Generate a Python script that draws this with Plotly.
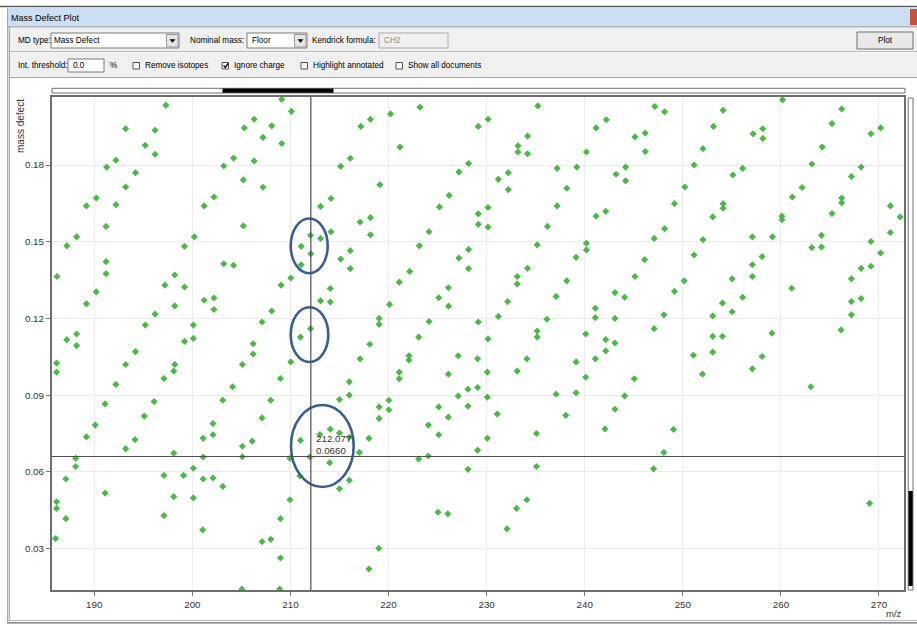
import plotly.graph_objects as go

# ---------------- data: (m/z, mass defect) ----------------
pts_185_208 = [
    (186.2, 0.1364), (187.2, 0.1484), (188.2, 0.1519), (189.2, 0.164), (189.2, 0.1257),
    (190.2, 0.1671), (190.2, 0.1304), (187.2, 0.1117), (188.2, 0.1139), (188.2, 0.1094),
    (191.26, 0.1792), (191.2, 0.156), (191.2, 0.1422), (191.2, 0.1375), (192.2, 0.1819),
    (192.2, 0.1645), (193.2, 0.1942), (193.2, 0.1714), (194.2, 0.177), (194.2, 0.107),
    (195.2, 0.1877), (195.2, 0.1174), (196.2, 0.1936), (196.2, 0.1842), (196.2, 0.1217),
    (197.3, 0.2034), (197.2, 0.133), (198.2, 0.137), (198.2, 0.1249), (199.2, 0.1482),
    (199.2, 0.1323), (199.2, 0.111), (200.2, 0.1519), (200.1, 0.1174), (200.1, 0.1122),
    (201.2, 0.164), (201.2, 0.1271), (202.2, 0.1675), (202.2, 0.128), (202.2, 0.1235),
    (203.2, 0.1414), (203.2, 0.1796), (204.2, 0.1408), (204.2, 0.1827), (205.2, 0.1742),
    (205.2, 0.1562), (205.3, 0.1945), (206.3, 0.1979), (206.3, 0.1816), (206.2, 0.1101),
    (206.2, 0.1061), (207.2, 0.1908), (207.2, 0.1713), (207.1, 0.1186),
    (186.16, 0.1025), (186.16, 0.099), (193.2, 0.102), (192.2, 0.0942), (191.1, 0.0866),
    (190.1, 0.0783), (189.2, 0.0737), (188.1, 0.0653), (188.1, 0.0621), (187.1, 0.0572),
    (186.16, 0.0483), (186.16, 0.0457), (187.1, 0.0417), (186.05, 0.0339), (191.1, 0.0517),
    (193.2, 0.069), (194.15, 0.0726), (195.1, 0.0818), (196.1, 0.0875), (197.1, 0.0965),
    (198.1, 0.0994), (198.2, 0.102), (198.1, 0.0673), (197.1, 0.0586), (197.1, 0.0429),
    (198.1, 0.0503), (199.1, 0.0586), (200.1, 0.0614), (200.1, 0.0498), (201.1, 0.0731),
    (201.1, 0.0658), (201.1, 0.0572), (201.05, 0.0373), (202.1, 0.0789), (202.1, 0.0745),
    (202.1, 0.0576), (203.1, 0.088), (203.1, 0.0543), (204.1, 0.0933), (205.1, 0.102),
    (205.1, 0.07), (205.1, 0.0659), (206.1, 0.072), (207.1, 0.0811), (207.1, 0.0327),
    (205.05, 0.0142),
]
pts_208_231 = [
    (209.11, 0.2057), (210.1, 0.201), (208.09, 0.1953), (209.11, 0.1884), (212.05, 0.1525),
    (213.07, 0.1513), (211.09, 0.1482), (212.08, 0.1453), (211.09, 0.141), (210.03, 0.1358),
    (209.04, 0.133), (208.09, 0.1229), (212.05, 0.116), (211.02, 0.1127), (215.12, 0.1795),
    (216.1, 0.1826), (217.17, 0.1951), (218.16, 0.1979), (220.2, 0.2), (221.16, 0.187),
    (223.2, 0.2026), (213.07, 0.1638), (214.13, 0.1669), (219.11, 0.1723), (214.13, 0.1539),
    (217.1, 0.1577), (218.16, 0.1594), (218.16, 0.1527), (215.12, 0.1432), (216.1, 0.1465),
    (216.1, 0.1395), (214.06, 0.1317), (213.07, 0.1269), (214.06, 0.1264), (219.04, 0.12),
    (219.04, 0.1177), (220.1, 0.1255), (218.09, 0.1099), (221.09, 0.1342), (222.15, 0.1384),
    (223.14, 0.1484), (224.13, 0.1539), (225.19, 0.1636), (226.18, 0.1681), (227.17, 0.1773),
    (228.16, 0.1806), (229.15, 0.1951), (230.14, 0.1979), (229.15, 0.1609), (229.15, 0.1568),
    (230.14, 0.1634), (230.14, 0.1557), (227.17, 0.1436), (228.16, 0.147), (228.16, 0.1395),
    (226.1, 0.132), (225.12, 0.1281), (226.12, 0.1248), (224.13, 0.1188), (229.15, 0.1186),
    (230.14, 0.112), (223.07, 0.1127),
    (210.03, 0.103), (208.98, 0.0965), (207.99, 0.088), (217.1, 0.1042), (216.0, 0.0952),
    (216.0, 0.09), (215.0, 0.0883), (214.06, 0.0767), (213.0, 0.0746), (211.02, 0.0723),
    (215.0, 0.0752), (216.0, 0.0735), (211.98, 0.0658), (209.95, 0.0653), (214.0, 0.0636),
    (217.03, 0.0676), (218.0, 0.0731), (219.04, 0.0809), (219.04, 0.0854), (220.03, 0.088),
    (220.03, 0.0843), (221.09, 0.099), (221.09, 0.0964), (222.08, 0.1054), (222.08, 0.1037),
    (210.96, 0.0584), (216.0, 0.0567), (215.0, 0.0534), (209.95, 0.0491), (208.98, 0.0417),
    (207.99, 0.0336), (208.98, 0.0263), (208.9, 0.0142), (218.0, 0.022), (219.0, 0.0301),
    (223.07, 0.065), (224.06, 0.0662), (224.06, 0.0783), (225.12, 0.0854), (225.12, 0.0745),
    (226.1, 0.0814), (226.1, 0.0982), (227.1, 0.1054), (227.1, 0.0897), (228.09, 0.0923),
    (228.09, 0.0857), (228.09, 0.061), (229.08, 0.093), (229.08, 0.1042), (230.07, 0.099),
    (230.07, 0.0892), (230.07, 0.0731), (229.08, 0.0685), (225.05, 0.0442), (226.04, 0.0436),
]
pts_231_252 = [
    (235.22, 0.2031), (234.17, 0.1913), (233.19, 0.1875), (233.19, 0.1851), (234.17, 0.1844),
    (231.19, 0.1744), (232.2, 0.177), (232.2, 0.1704), (237.19, 0.1787), (239.19, 0.1792),
    (238.17, 0.1709), (237.19, 0.164), (236.2, 0.156), (235.15, 0.1488), (234.17, 0.1396),
    (233.12, 0.1364), (233.12, 0.1335), (232.14, 0.1266), (231.19, 0.1208), (235.15, 0.1151),
    (235.15, 0.1127), (236.14, 0.1197), (237.08, 0.1286), (238.17, 0.1347), (239.12, 0.1439),
    (240.17, 0.1494), (240.17, 0.1468), (240.17, 0.1851), (241.15, 0.1945), (242.2, 0.1977),
    (243.19, 0.1764), (244.17, 0.1792), (244.17, 0.1738), (241.15, 0.16), (242.14, 0.1619),
    (245.12, 0.191), (246.17, 0.1925), (246.17, 0.1853), (247.15, 0.2029), (248.14, 0.2008),
    (250.2, 0.1714), (251.15, 0.18), (249.15, 0.1649), (248.14, 0.1551), (247.08, 0.1513),
    (246.1, 0.143), (245.12, 0.1364), (244.07, 0.1283), (243.08, 0.1301), (241.08, 0.124),
    (241.08, 0.1203), (243.08, 0.12), (240.1, 0.1139), (242.14, 0.1117), (243.08, 0.1104),
    (242.14, 0.1073), (247.08, 0.116), (248.07, 0.1214), (249.15, 0.1306), (250.14, 0.1347),
    (251.15, 0.1448),
    (234.1, 0.1042), (233.12, 0.0994), (231.08, 0.0826), (235.08, 0.075), (235.08, 0.0621),
    (234.1, 0.0491), (233.05, 0.0457), (232.07, 0.0377), (237.08, 0.0904), (238.07, 0.0821),
    (239.12, 0.0909), (239.12, 0.103), (240.1, 0.097), (241.08, 0.1042), (244.07, 0.0897),
    (243.08, 0.0845), (242.07, 0.0768), (245.05, 0.0964), (249.05, 0.0766), (248.07, 0.0676),
    (247.02, 0.0612), (251.08, 0.1056),
]
pts_252_273 = [
    (254.11, 0.2014), (253.12, 0.1951), (252.05, 0.1864), (257.16, 0.1922), (258.15, 0.1942),
    (258.15, 0.1904), (260.17, 0.2055), (255.1, 0.1761), (256.1, 0.1787), (254.11, 0.1649),
    (254.11, 0.1631), (253.05, 0.1597), (252.05, 0.1508), (257.09, 0.1519), (259.14, 0.1519),
    (258.08, 0.1442), (257.09, 0.141), (257.09, 0.1364), (255.03, 0.1355), (256.1, 0.1283),
    (254.04, 0.126), (255.03, 0.1226), (253.05, 0.121), (253.05, 0.113), (254.04, 0.113),
    (253.05, 0.1068), (259.08, 0.1142), (260.1, 0.16), (260.1, 0.1586), (261.16, 0.1675),
    (262.16, 0.1712), (263.15, 0.1804), (264.21, 0.187), (265.21, 0.1962), (266.2, 0.2019),
    (267.19, 0.1755), (268.18, 0.1792), (269.18, 0.1922), (270.17, 0.1945), (266.2, 0.1671),
    (266.2, 0.1652), (265.21, 0.161), (264.14, 0.1525), (263.15, 0.1477), (264.14, 0.1479),
    (261.1, 0.1318), (267.19, 0.1355), (267.19, 0.1266), (268.18, 0.1278), (267.19, 0.1214),
    (266.13, 0.1155), (268.18, 0.1396), (269.18, 0.1404), (269.18, 0.1501), (270.17, 0.1456),
    (271.16, 0.164), (271.16, 0.1536), (272.16, 0.1597),
    (252.0, 0.0982), (257.09, 0.1003), (258.08, 0.1051), (263.05, 0.0933), (269.04, 0.0477),
]

x_ticks = [190, 200, 210, 220, 230, 240, 250, 260, 270]
y_ticks = [0.03, 0.06, 0.09, 0.12, 0.15, 0.18]
x_range = [185.69, 272.55]
y_range = [0.0138, 0.2066]
cursor_mz = 212.077
cursor_md = 0.0660

regions = [pts_185_208, pts_208_231, pts_231_252, pts_252_273]
mz = [p[0] for r in regions for p in r]
md = [p[1] for r in regions for p in r]

# ---------------- geometry helpers (pixel -> paper) ----------------
W, H = 917, 625
ML, MR, MT, MB = 52, 13, 97, 35
PW, PH = W - ML - MR, H - MT - MB
UI_FONT = "Liberation Sans, Arial, sans-serif"
UI_SIZE = 8.2


def px(x):
    return (x - ML) / PW


def py(y):
    return (H - MB - y) / PH


shapes, anns = [], []


def rect(x0, y0, x1, y1, fill=None, line=None, lw=1):
    shapes.append(dict(type="rect", xref="paper", yref="paper",
                       x0=px(x0), x1=px(x1), y0=py(y1), y1=py(y0),
                       fillcolor=fill or "rgba(0,0,0,0)",
                       line=dict(color=line or "rgba(0,0,0,0)", width=lw if line else 0),
                       layer="above"))


def seg(x0, y0, x1, y1, color, lw=1):
    shapes.append(dict(type="line", xref="paper", yref="paper",
                       x0=px(x0), x1=px(x1), y0=py(y0), y1=py(y1),
                       line=dict(color=color, width=lw), layer="above"))


def path(pts, fill=None, color="#000", lw=1, close=False):
    d = "M " + " L ".join(f"{px(a):.5f},{py(b):.5f}" for a, b in pts) + (" Z" if close else "")
    shapes.append(dict(type="path", xref="paper", yref="paper", path=d,
                       fillcolor=fill or "rgba(0,0,0,0)", line=dict(color=color, width=lw),
                       layer="above"))


def ellipse(x0, y0, x1, y1, color="#3B5E8C", lw=2.6):
    shapes.append(dict(type="circle", xref="paper", yref="paper",
                       x0=px(x0), x1=px(x1), y0=py(y1), y1=py(y0),
                       line=dict(color=color, width=lw), layer="above"))


def text(x, y, s, size=UI_SIZE, color="#000", anchor="left", angle=0, yanchor="middle"):
    anns.append(dict(xref="paper", yref="paper", x=px(x), y=py(y), text=s, showarrow=False,
                     xanchor=anchor, yanchor=yanchor, textangle=angle, borderpad=0,
                     font=dict(family=UI_FONT, size=size, color=color)))


# ---------------- window chrome ----------------
seg(0, 6.5, W, 6.5, "#5A5A5A", 1.5)
rect(8, 7.5, W, 26.5, fill="#CCDEF1")
rect(910, 9, W, 25, fill="#C9503F")
text(10, 17.5, "Mass Defect Plot", size=9)
rect(9, 27, W, 77.5, fill="#F0F0F0")
seg(8, 26.8, W, 26.8, "#9A9A9A", 1)
seg(9, 51.8, W, 51.8, "#A5A5A5", 1)
seg(9, 52.8, W, 52.8, "#FFFFFF", 1)
seg(9, 77.5, W, 77.5, "#A5A5A5", 1)
seg(7.5, 8, 7.5, 623, "#A8A8A8", 1)
seg(9.2, 27, 9.2, 621, "#8A8A8A", 1)
seg(8, 620.6, W, 620.6, "#B5B5B5", 1)
seg(7, 622.8, W, 622.8, "#6A6A6A", 1.2)

# row 1
text(17, 41, "MD type:")
rect(51, 33, 179, 48, fill="#FFFFFF", line="#7A7A7A")
text(53, 41, "Mass Defect")
rect(166.5, 34.5, 178, 47, fill="#E6E6E6", line="#9A9A9A")
path([(170, 39.5), (175, 39.5), (172.5, 42.5)], fill="#000", color="#000", lw=0.5, close=True)
text(244.5, 41, "Nominal mass:", anchor="right")
rect(247, 33, 307, 48, fill="#FFFFFF", line="#7A7A7A")
text(251, 41, "Floor")
rect(294.5, 34.5, 306, 47, fill="#E6E6E6", line="#9A9A9A")
path([(298, 39.5), (303, 39.5), (300.5, 42.5)], fill="#000", color="#000", lw=0.5, close=True)
text(377, 41, "Kendrick formula:", anchor="right")
rect(379, 33, 448, 48, fill="#F0F0F0", line="#ABABAB")
text(383, 41, "CH2", color="#8C8C8C")
rect(857, 32, 913, 49, fill="#E8E8E8", line="#707070")
text(885, 40.5, "Plot", anchor="center")

# row 2
text(17, 65.5, "Int. threshold:")
rect(68, 59, 104, 72, fill="#FFFFFF", line="#7A7A7A")
text(71.5, 65.5, "0.0")
text(109, 65.5, "%")
for bx, label in [(133, "Remove isotopes"), (222, "Ignore charge"),
                  (301, "Highlight annotated"), (396, "Show all documents")]:
    rect(bx, 62.5, bx + 6.5, 69, fill="#FFFFFF", line="#555555")
    text(bx + 10.5, 65.5, label)
path([(223.6, 65.4), (225.3, 67.6), (228.2, 63.4)], color="#000", lw=1.5)

# scroll bars
rect(52, 88.3, 905, 93, fill="#FFFFFF", line="#707070")
rect(222.5, 88.6, 333.5, 92.7, fill="#000000")
rect(908.2, 98, 913, 590, fill="#FFFFFF", line="#707070")
rect(908.5, 491, 912.7, 586, fill="#000000")

# axis titles
text(21, 98, "mass defect", size=10, color="#333333", anchor="center", angle=-90, yanchor="top")
text(903, 613, "m/z", size=9.5, color="#333333", anchor="right")

# cursor read-out
text(315, 438.5, f"{cursor_mz:.3f}", size=9.8, color="#333333")
text(315, 450.3, f"{cursor_md:.4f}", size=9.8, color="#333333")

# hand-drawn highlight ellipses
ellipse(290.7, 218.5, 327.7, 273.3)
ellipse(290.7, 307.3, 328.3, 362)
ellipse(291, 405, 353.7, 487)

# crosshair
shapes.append(dict(type="line", xref="x", yref="paper", x0=cursor_mz, x1=cursor_mz, y0=0, y1=1,
                   line=dict(color="#505050", width=1.2), layer="above"))
shapes.append(dict(type="line", xref="paper", yref="y", x0=0, x1=1, y0=cursor_md, y1=cursor_md,
                   line=dict(color="#505050", width=1.2), layer="above"))

# ---------------- figure ----------------
fig = go.Figure(go.Scatter(
    x=mz, y=md, mode="markers",
    marker=dict(symbol="diamond", size=5.5, color="#4CB847", line=dict(width=0)),
    hoverinfo="x+y",
))

axis_common = dict(showgrid=True, gridcolor="#ECECEC", gridwidth=1, zeroline=False,
                   showline=True, linecolor="#6E6E6E", linewidth=2, mirror=True,
                   ticks="outside", ticklen=4, tickcolor="#777777", tickwidth=1,
                   tickfont=dict(family=UI_FONT, size=9.8, color="#333333"))
fig.update_xaxes(range=x_range, tickvals=x_ticks, **axis_common)
fig.update_yaxes(range=y_range, tickvals=y_ticks, tickformat=".2f", **axis_common)

fig.update_layout(width=W, height=H, margin=dict(l=ML, r=MR, t=MT, b=MB, pad=0),
                  paper_bgcolor="#FFFFFF", plot_bgcolor="#FFFFFF", showlegend=False,
                  shapes=shapes, annotations=anns)

fig.write_html("out.html")
